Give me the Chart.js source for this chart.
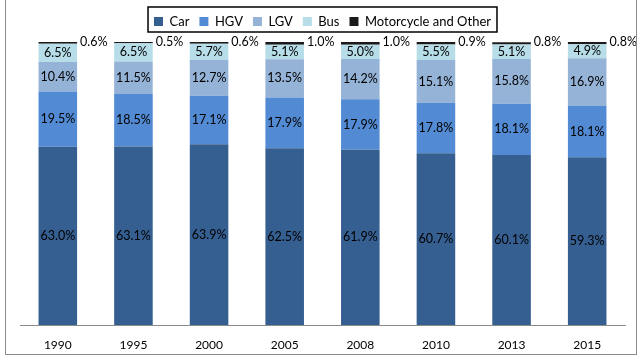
<!DOCTYPE html>
<html lang="en">
<head>
  <meta charset="UTF-8">
  <title>Traffic share by vehicle type</title>
  <script src="https://cdn.jsdelivr.net/npm/chart.js"></script>
  <style>
    body { margin: 0; background: #fff; }
    #wrap { position: relative; width: 642px; height: 360px; }
    #frame {
      position: absolute; left: 5px; top: -2px; width: 632px; height: 357px;
      border: 1px solid #8a8a8a; box-sizing: border-box; pointer-events: none;
    }
  </style>
</head>
<body>
  <div id="wrap">
    <canvas id="shareChart" width="642" height="360"></canvas>
    <div id="frame"></div>
  </div>
  <script>
const years = ['1990', '1995', '2000', '2005', '2008', '2010', '2013', '2015'];
const car = [63.0, 63.1, 63.9, 62.5, 61.9, 60.7, 60.1, 59.3];
const hgv = [19.5, 18.5, 17.1, 17.9, 17.9, 17.8, 18.1, 18.1];
const lgv = [10.4, 11.5, 12.7, 13.5, 14.2, 15.1, 15.8, 16.9];
const bus = [6.5, 6.5, 5.7, 5.1, 5.0, 5.5, 5.1, 4.9];
const motoOther = [0.6, 0.5, 0.6, 1.0, 1.0, 0.9, 0.8, 0.8];

const font = 'Lato';

// labels inside each segment, the thin top segment gets its label to the right
const segmentLabels = {
  id: 'segmentLabels',
  afterDatasetsDraw(chart) {
    const ctx = chart.ctx;
    ctx.save();
    ctx.font = '12.5px ' + font;
    ctx.fillStyle = '#000';
    ctx.textBaseline = 'middle';
    chart.data.datasets.forEach((ds, i) => {
      const meta = chart.getDatasetMeta(i);
      meta.data.forEach((bar, j) => {
        const txt = ds.data[j].toFixed(1) + '%';
        if (i === chart.data.datasets.length - 1) {
          ctx.textAlign = 'left';
          ctx.fillText(txt, bar.x + bar.width / 2 + 3, bar.y);
        } else {
          ctx.textAlign = 'center';
          ctx.fillText(txt, bar.x, (bar.y + bar.base) / 2);
        }
      });
    });
    ctx.restore();
  }
};

// extra room under the legend
const legendGap = {
  id: 'legendGap',
  afterInit(chart) {
    const fit = chart.legend.fit;
    chart.legend.fit = function () {
      fit.bind(chart.legend)();
      this.height += 4;
    };
  }
};

// box round the legend
const legendBox = {
  id: 'legendBox',
  afterDraw(chart) {
    const hb = chart.legend.legendHitBoxes;
    if (!hb || !hb.length) return;
    const left = hb[0].left - 6;
    const last = hb[hb.length - 1];
    const right = last.left + last.width + 6;
    const top = hb[0].top - 8;
    const bottom = hb[0].top + 17;
    const ctx = chart.ctx;
    ctx.save();
    ctx.strokeStyle = '#000';
    ctx.lineWidth = 1.5;
    ctx.strokeRect(left, top, right - left, bottom - top);
    ctx.restore();
  }
};

new Chart(document.getElementById('shareChart'), {
  type: 'bar',
  data: {
    labels: years,
    datasets: [
      { label: 'Car', data: car, backgroundColor: '#365F91' },
      { label: 'HGV', data: hgv, backgroundColor: '#528BD3' },
      { label: 'LGV', data: lgv, backgroundColor: '#95B3D7' },
      { label: 'Bus', data: bus, backgroundColor: '#B7DEE8' },
      { label: 'Motorcycle and Other', data: motoOther, backgroundColor: '#1a1a1a' }
    ]
  },
  options: {
    responsive: false,
    animation: false,
    devicePixelRatio: 1,
    layout: { padding: { left: 20, right: 17, top: 5, bottom: 0 } },
    datasets: { bar: { categoryPercentage: 1, barPercentage: 0.51 } },
    plugins: {
      tooltip: { enabled: false },
      legend: {
        position: 'top',
        labels: {
          boxWidth: 9,
          boxHeight: 9,
          padding: 10,
          color: '#000',
          font: { family: font, size: 13 }
        }
      }
    },
    scales: {
      x: {
        stacked: true,
        grid: { display: false, drawTicks: false },
        border: { color: '#8a8a8a', width: 1 },
        ticks: { color: '#000', padding: 13, font: { family: font, size: 12 } },
        afterFit(scale) { scale.height = 35; }
      },
      y: {
        stacked: true,
        display: false,
        min: 0,
        max: 100
      }
    }
  },
  plugins: [segmentLabels, legendGap, legendBox]
});
  </script>
</body>
</html>
